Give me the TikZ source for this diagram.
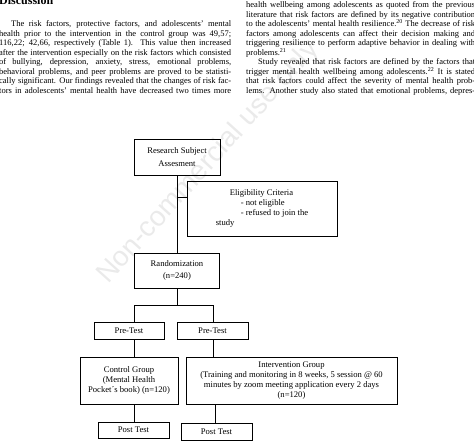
\documentclass[tikz,border=0pt]{standalone}
\usepackage{fontspec}
\setmainfont{Liberation Serif}
\newfontfamily\marksans{Liberation Sans}
\usetikzlibrary{positioning}
\definecolor{markgrey}{RGB}{234,234,234}

\tikzset{
  flowbox/.style={draw, line width=0.9pt, inner sep=1pt, align=center,
    font=\fontsize{8.6}{10}\selectfont},
  colline/.style={anchor=base west, inner sep=0pt,
    font=\fontsize{8.5}{9.5}\selectfont},
  link/.style={line width=0.9pt}
}

\begin{document}
\begin{tikzpicture}[x=1pt,y=-1pt]
    \useasboundingbox (0,0) rectangle (474,445);
    \clip (0,0) rectangle (474,445);
    % watermark
    \node[text=markgrey, font=\marksans\fontsize{28}{28}\selectfont, rotate=48,
      anchor=base west, inner sep=0pt] (mark) at (108,285) {Non-commercial use only};
    % left column
    \node[anchor=base west, inner sep=0pt, font=\bfseries\fontsize{12}{12}\selectfont]
      (head) at (-1,4) {Discussion};
    \foreach \txt [count=\k] in {
      {\hspace*{12pt}The risk factors, protective factors, and adolescents' mental},
      {health prior to the intervention in the control group was 49,57;},
      {116,22; 42,66, respectively (Table 1). This value then increased},
      {after the intervention especially on the risk factors which consisted},
      {of bullying, depression, anxiety, stress, emotional problems,},
      {behavioral problems, and peer problems are proved to be statisti-},
      {cally significant. Our findings revealed that the changes of risk fac-},
      {tors in adolescents' mental health have decreased two times more}}
      \node[colline] (left\k) at (-1,17+9.5*\k) {\makebox[232pt][s]{\txt}};
    % right column
    \foreach \txt [count=\k] in {
      {health wellbeing among adolescents as quoted from the previous},
      {literature that risk factors are defined by its negative contribution},
      {to the adolescents' mental health resilience.\textsuperscript{20} The decrease of risk},
      {factors among adolescents can affect their decision making and},
      {triggering resilience to perform adaptive behavior in dealing with},
      {problems.\textsuperscript{21}\hfill},
      {\hspace*{12pt}Study revealed that risk factors are defined by the factors that},
      {trigger mental health wellbeing among adolescents.\textsuperscript{22} It is stated},
      {that risk factors could affect the severity of mental health prob-},
      {lems. Another study also stated that emotional problems, depres-}}
      \node[colline] (right\k) at (246,-2+9.5*\k) {\makebox[229pt][s]{\txt}};
    % boxes
    \node[flowbox, minimum width=86pt, minimum height=36pt] (research) at (177,157)
      {Research Subject\\[3pt]Assesment};
    \node[flowbox, minimum width=150pt, minimum height=55pt, align=left] (elig) at (262,208.5)
      {\hspace*{14pt}Eligibility Criteria\\ \hspace*{25pt}- not eligible\\
       \hspace*{25pt}- refused to join the\\ study};
    \node[flowbox, minimum width=85pt, minimum height=35pt] (random) at (177,270.5)
      {Randomization\\[1.5pt](n=240)};
    \node[flowbox, minimum width=70pt, minimum height=17pt] (pretestA) at (129,330.5) {Pre-Test};
    \node[flowbox, minimum width=71pt, minimum height=17pt] (pretestB) at (212.5,330.5) {Pre-Test};
    \node[flowbox, minimum width=98pt, minimum height=47pt] (control) at (129,380.5)
      {Control Group\\(Mental Health\\Pocket´s book) (n=120)};
    \node[flowbox, minimum width=211pt, minimum height=47pt] (interv) at (291.5,380.5)
      {Intervention Group\\(Training and monitoring in 8 weeks, 5 session @ 60\\
       minutes by zoom meeting application every 2 days\\(n=120)};
    \node[flowbox, minimum width=71pt, minimum height=16pt] (postA) at (133.5,430) {Post Test};
    \node[flowbox, minimum width=71pt, minimum height=17pt] (postB) at (216.5,431.5) {Post Test};
    % connectors
    \coordinate (split) at (177,197);
    \coordinate (fork) at (177,305);
    \coordinate (forkL) at (134,305);
    \coordinate (forkR) at (213,305);
    \coordinate (dropR) at (215,404);
    \draw[link] (research) -- (random);
    \draw[link] (split) -- (split -| elig.west);
    \draw[link] (random) -- (fork);
    \draw[link] (forkL |- pretestA.north) -- (forkL) -- (forkR) -- (forkR |- pretestB.north);
    \draw[link] (forkL |- pretestA.south) -- (forkL |- control.north);
    \draw[link] (forkR |- pretestB.south) -- (forkR |- interv.north);
    \draw[link] (forkL |- control.south) -- (forkL |- postA.north);
    \draw[link] (dropR) -- (dropR |- postB.north);
\end{tikzpicture}
\end{document}
